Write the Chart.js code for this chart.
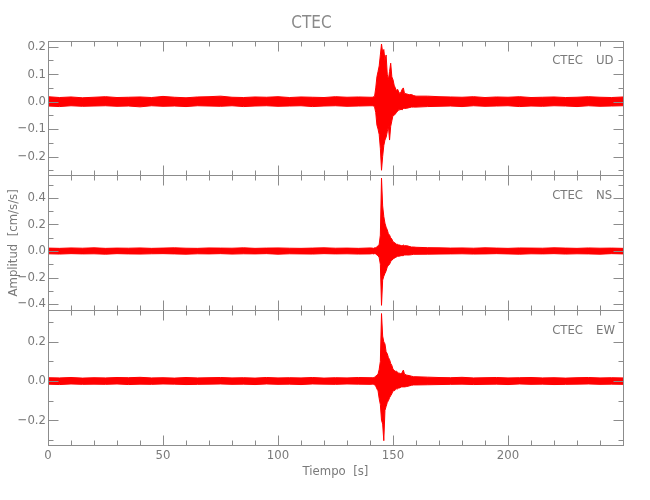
<!DOCTYPE html>
<html>
<head>
<meta charset="utf-8">
<script src="https://cdn.jsdelivr.net/npm/chart.js@4.4.0/dist/chart.umd.min.js"></script>
<style>
  html, body { margin: 0; padding: 0; background: #fff; }
  #wrap { width: 650px; height: 500px; }
</style>
</head>
<body>
<div id="wrap"><canvas id="sismo" width="650" height="500"></canvas></div>
<script>
const station = "CTEC";
const components = ["UD", "NS", "EW"];

// tiempo [s]
const tiempo = [0,5,10,15,20,25,30,35,40,45,50,55,60,65,70,75,80,85,90,95,100,105,110,115,120,125,130,135,140,
  141,141.5,142,142.5,143,143.5,144,144.5,145,145.5,146,146.5,147,147.5,148,148.5,149,149.5,150,150.5,151,151.5,152,152.5,153,153.5,154,154.5,155,156,157,158,159,160,
  165,170,175,180,185,190,195,200,205,210,215,220,225,230,235,240,245,250];

// envolvente superior / inferior de cada componente [cm/s/s]
const udMax = [.018,.015,.017,.014,.016,.018,.015,.016,.017,.015,.019,.016,.014,.017,.018,.020,.016,.015,.017,.016,.018,.015,.017,.016,.015,.018,.016,.017,.016,
  .016,.018,.02,.05,.09,.11,.13,.17,.21,.18,.19,.15,.17,.10,.08,.11,.14,.09,.08,.06,.05,.04,.045,.035,.03,.035,.045,.05,.03,.028,.025,.026,.022,.02,
  .020,.018,.017,.016,.018,.015,.017,.016,.018,.015,.016,.017,.015,.016,.018,.016,.015,.017];
const udMin = [-.016,-.018,-.015,-.017,-.016,-.015,-.017,-.016,-.019,-.015,-.017,-.016,-.018,-.015,-.016,-.017,-.015,-.018,-.016,-.015,-.017,-.016,-.015,-.018,-.016,-.015,-.017,-.016,-.015,
  -.015,-.016,-.02,-.04,-.085,-.10,-.12,-.17,-.25,-.20,-.16,-.14,-.13,-.11,-.09,-.14,-.09,-.07,-.05,-.05,-.045,-.04,-.035,-.03,-.03,-.028,-.03,-.025,-.025,-.024,-.022,-.02,-.02,-.02,
  -.018,-.017,-.016,-.018,-.015,-.017,-.016,-.015,-.018,-.016,-.017,-.015,-.016,-.018,-.015,-.017,-.016,-.015];

const nsMax = [.022,.020,.023,.021,.024,.020,.022,.021,.023,.020,.022,.024,.021,.020,.023,.022,.021,.024,.020,.022,.023,.021,.020,.022,.024,.021,.022,.020,.023,
  .022,.02,.024,.025,.03,.04,.05,.12,.55,.34,.26,.21,.18,.16,.13,.12,.10,.09,.07,.065,.06,.05,.05,.045,.045,.04,.04,.045,.04,.04,.035,.03,.03,.028,
  .025,.024,.022,.023,.021,.024,.022,.020,.023,.022,.021,.024,.022,.020,.023,.021,.022,.020];
const nsMin = [-.021,-.023,-.020,-.022,-.021,-.024,-.020,-.022,-.023,-.021,-.020,-.022,-.024,-.021,-.022,-.020,-.023,-.021,-.022,-.020,-.024,-.021,-.022,-.023,-.020,-.022,-.021,-.023,-.022,
  -.02,-.022,-.02,-.022,-.03,-.035,-.05,-.10,-.41,-.22,-.19,-.17,-.15,-.12,-.11,-.10,-.08,-.07,-.06,-.055,-.05,-.045,-.04,-.04,-.038,-.035,-.035,-.035,-.03,-.03,-.03,-.028,-.025,-.025,
  -.024,-.023,-.022,-.021,-.023,-.022,-.020,-.022,-.024,-.021,-.022,-.020,-.023,-.021,-.022,-.024,-.020,-.022];

const ewMax = [.017,.016,.018,.015,.017,.016,.018,.017,.019,.016,.017,.015,.018,.016,.017,.018,.016,.017,.015,.018,.016,.017,.016,.018,.015,.017,.016,.018,.017,
  .017,.018,.02,.025,.03,.035,.06,.10,.345,.23,.20,.19,.15,.14,.12,.11,.09,.08,.06,.055,.05,.05,.045,.04,.04,.035,.045,.056,.035,.03,.028,.025,.022,.022,
  .020,.018,.017,.019,.016,.017,.018,.016,.017,.018,.016,.017,.015,.017,.018,.016,.017,.016];
const ewMin = [-.016,-.018,-.015,-.017,-.016,-.017,-.015,-.018,-.016,-.017,-.015,-.016,-.018,-.017,-.016,-.015,-.017,-.016,-.018,-.015,-.017,-.016,-.018,-.015,-.016,-.017,-.015,-.016,-.017,
  -.016,-.017,-.02,-.025,-.04,-.05,-.09,-.12,-.20,-.22,-.305,-.15,-.13,-.11,-.10,-.085,-.075,-.065,-.05,-.05,-.045,-.04,-.04,-.035,-.035,-.03,-.03,-.03,-.03,-.028,-.025,-.022,-.02,-.02,
  -.019,-.018,-.017,-.016,-.018,-.017,-.016,-.018,-.015,-.017,-.016,-.018,-.017,-.016,-.015,-.017,-.016,-.017];

// límites del eje y de cada panel
const yLimits = [[-0.269, 0.222], [-0.447, 0.570], [-0.327, 0.362]];
const yStep = [0.1, 0.2, 0.2];
const yMinor = [0.05, 0.1, 0.1];

const GRIS = "#7a7a7a";
const ROJO = "#ff0000";
Chart.defaults.font.family = "'Liberation Sans Narrow', 'DejaVu Sans Condensed', sans-serif";
Chart.defaults.color = GRIS;

const pts = arr => tiempo.map((t, i) => ({ x: t, y: arr[i] }));
const series = [[udMax, udMin], [nsMax, nsMin], [ewMax, ewMin]];

const datasets = [];
series.forEach((s, k) => {
  datasets.push({ data: pts(s[0]), yAxisID: "y" + k, borderColor: ROJO, borderWidth: 1, fill: false });
  datasets.push({ data: pts(s[1]), yAxisID: "y" + k, borderColor: ROJO, borderWidth: 1, fill: "-1", backgroundColor: ROJO });
});

const fmt = v => Math.abs(v) < 1e-9 ? "0.0" : v.toFixed(1).replace("-", "\u2212");

const yScale = k => ({
  type: "linear",
  position: "left",
  stack: "panels",
  stackWeight: 1,
  weight: 3 - k,
  min: yLimits[k][0],
  max: yLimits[k][1],
  grid: { display: false, drawTicks: false },
  border: { display: false },
  ticks: { stepSize: yStep[k], includeBounds: false, padding: 2, font: { size: 13 }, callback: v => fmt(v) },
  title: { display: k === 1, text: "Amplitud  [cm/s/s]", font: { size: 13 }, padding: { top: 6 } },
  afterFit: s => { s.width = 48; }
});

// marco y marcas menores hacia adentro
const marco = {
  id: "marco",
  afterDatasetsDraw(chart) {
    const { ctx, chartArea: a } = chart;
    const xs = chart.scales.x;
    ctx.save();
    ctx.strokeStyle = "#8c8c8c";
    ctx.lineWidth = 1;
    for (let k = 0; k < 3; k++) {
      const ys = chart.scales["y" + k];
      const top = Math.round(ys.top) + 0.5, bot = Math.round(ys.bottom) + 0.5;
      const l = Math.round(a.left) + 0.5, r = Math.round(a.right) + 0.5;
      ctx.strokeRect(l, top, r - l, bot - top);
      ctx.beginPath();
      // y ticks
      const m = yMinor[k];
      for (let v = Math.ceil(ys.min / m) * m; v <= ys.max + 1e-9; v += m) {
        const y = Math.round(ys.getPixelForValue(v)) + 0.5;
        const major = Math.abs(v / yStep[k] - Math.round(v / yStep[k])) < 1e-6;
        const len = major ? 10 : 5;
        ctx.moveTo(l, y); ctx.lineTo(l + len, y);
        ctx.moveTo(r, y); ctx.lineTo(r - len, y);
      }
      // x ticks
      for (let t = 0; t <= xs.max; t += 10) {
        const x = Math.round(xs.getPixelForValue(t)) + 0.5;
        const len = t % 50 === 0 ? 10 : 5;
        ctx.moveTo(x, top); ctx.lineTo(x, top + len);
        ctx.moveTo(x, bot); ctx.lineTo(x, bot - len);
      }
      ctx.stroke();
      // etiqueta de componente
      ctx.fillStyle = GRIS;
      ctx.font = "13px 'Liberation Sans Narrow', 'DejaVu Sans Condensed', sans-serif";
      ctx.textBaseline = "middle";
      ctx.textAlign = "right";
      ctx.fillText(station, a.right - 40, ys.top + 20);
      ctx.textAlign = "left";
      ctx.fillText(components[k], a.right - 27, ys.top + 20);
    }
    ctx.restore();
  }
};

document.addEventListener("DOMContentLoaded", () => {
  const ctx = document.getElementById("sismo").getContext("2d");
  new Chart(ctx, {
    type: "line",
    data: { datasets },
    options: {
      responsive: false,
      animation: false,
      events: [],
      layout: { padding: { left: 0, right: 27, top: 0, bottom: 0 } },
      elements: { point: { radius: 0 }, line: { tension: 0 } },
      plugins: {
        legend: { display: false },
        tooltip: { enabled: false },
        title: {
          display: true,
          text: station,
          color: "#8a8a8a",
          font: { size: 17, weight: "normal" },
          padding: { top: 13, bottom: 7.3 }
        }
      },
      scales: {
        x: {
          type: "linear",
          min: 0,
          max: 250,
          grid: { display: false, drawTicks: false },
          border: { display: false },
          ticks: { stepSize: 50, padding: 3, font: { size: 13 }, callback: v => (v >= 250 ? "" : v) },
          title: { display: true, text: "Tiempo  [s]", font: { size: 13 }, padding: { bottom: 20.7 } },
          afterFit: s => { s.height = 55; }
        },
        y0: yScale(0),
        y1: yScale(1),
        y2: yScale(2)
      }
    },
    plugins: [marco]
  });
});
</script>
</body>
</html>
